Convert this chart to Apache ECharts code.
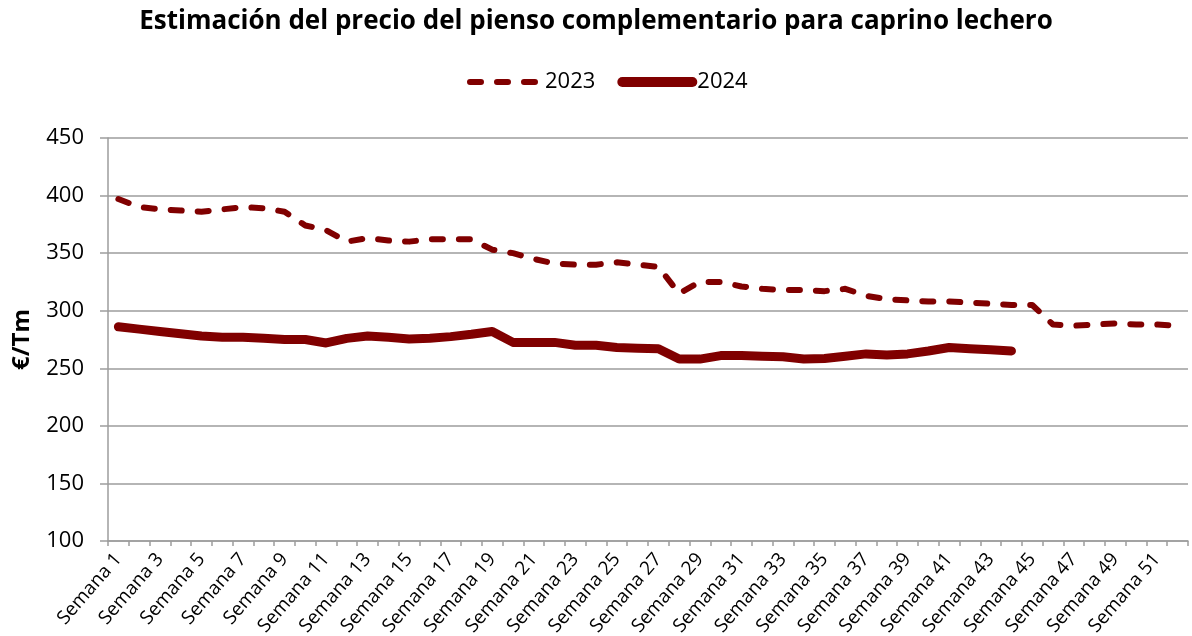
<!DOCTYPE html>
<html>
<head>
<meta charset="utf-8">
<script src="https://cdn.jsdelivr.net/npm/echarts@6/dist/echarts.min.js"></script>
<style>
  html, body { margin: 0; padding: 0; background: #fff; }
  #chart { width: 1192px; height: 636px; }
</style>
</head>
<body>
<div id="chart"></div>
<script>
// semanas del año
const semanas = [
  'Semana 1', 'Semana 2', 'Semana 3', 'Semana 4', 'Semana 5', 'Semana 6', 'Semana 7', 'Semana 8',
  'Semana 9', 'Semana 10', 'Semana 11', 'Semana 12', 'Semana 13', 'Semana 14', 'Semana 15', 'Semana 16',
  'Semana 17', 'Semana 18', 'Semana 19', 'Semana 20', 'Semana 21', 'Semana 22', 'Semana 23', 'Semana 24',
  'Semana 25', 'Semana 26', 'Semana 27', 'Semana 28', 'Semana 29', 'Semana 30', 'Semana 31', 'Semana 32',
  'Semana 33', 'Semana 34', 'Semana 35', 'Semana 36', 'Semana 37', 'Semana 38', 'Semana 39', 'Semana 40',
  'Semana 41', 'Semana 42', 'Semana 43', 'Semana 44', 'Semana 45', 'Semana 46', 'Semana 47', 'Semana 48',
  'Semana 49', 'Semana 50', 'Semana 51', 'Semana 52'
]

// €/Tm
const precio2023 = [
  397, 390, 388, 387, 386, 388, 390, 389, 386, 374, 370, 360, 363, 361, 360, 362,
  362, 362, 353, 350, 345, 341, 340, 340, 342, 340, 338, 315, 325, 325, 321, 319,
  318, 318, 317, 319, 313, 310, 309, 308, 308, 307, 306, 305, 305, 288, 287, 288,
  289, 288, 288, 287
]
const precio2024 = [
  286, 284, 282, 280, 278, 277, 277, 276, 275, 275, 272, 276, 278, 277, 275.5, 276,
  277.5, 279.5, 282, 272.5, 272.5, 272.5, 270, 270, 268, 267.5, 267, 258, 258, 261, 261, 260.5,
  260, 258, 258.5, 260.5, 262.5, 261.5, 262.5, 265, 268, 267, 266, 265
]

const granate = '#800000'
const gris = '#9d9d9d'
const fuente = '"Open Sans", "Noto Sans", sans-serif'

const chart = echarts.init(document.getElementById('chart'))

const option = {
  backgroundColor: '#fff',
  animation: false,
  title: {
    text: 'Estimación del precio del pienso complementario para caprino lechero',
    left: 'center',
    top: 4,
    textStyle: { fontFamily: fuente, fontSize: 26, fontWeight: 'bold', color: '#000' }
  },
  legend: {
    top: 66,
    left: 462,
    itemWidth: 70,
    itemHeight: 20,
    itemGap: 22,
    textStyle: { fontFamily: fuente, fontSize: 22, color: '#000' },
    data: [
      { name: '2023', itemStyle: { opacity: 0 }, lineStyle: { width: 6, type: [11, 16], cap: 'round' } },
      { name: '2024', itemStyle: { opacity: 0 }, lineStyle: { width: 10, cap: 'round' } }
    ]
  },
  grid: { left: 108, right: 4, top: 138, bottom: 95, outerBoundsMode: 'none' },
  xAxis: {
    type: 'category',
    data: semanas,
    boundaryGap: true,
    axisLine: { lineStyle: { color: gris, width: 1.5 } },
    axisTick: { show: true, interval: 0, length: 5, lineStyle: { color: gris, width: 1.5 } },
    axisLabel: {
      interval: 1,
      rotate: 49,
      margin: 15,
      fontFamily: fuente,
      fontSize: 19,
      color: '#000'
    }
  },
  yAxis: {
    type: 'value',
    min: 100,
    max: 450,
    interval: 50,
    name: '€/Tm',
    nameLocation: 'middle',
    nameRotate: 90,
    nameGap: 74,
    nameTextStyle: { fontFamily: fuente, fontSize: 24, fontWeight: 'bold', color: '#000' },
    axisLine: { show: true, lineStyle: { color: gris, width: 1.5 } },
    axisTick: { show: true, length: 8, lineStyle: { color: gris, width: 1.5 } },
    axisLabel: { margin: 24, fontFamily: fuente, fontSize: 22, color: '#000' },
    splitLine: { lineStyle: { color: gris, width: 1.5 } }
  },
  series: [
    {
      name: '2023',
      type: 'line',
      data: precio2023,
      symbol: 'none',
      color: granate,
      lineStyle: { color: granate, width: 6, type: [11, 16], cap: 'round', join: 'round' }
    },
    {
      name: '2024',
      type: 'line',
      data: precio2024,
      symbol: 'none',
      color: granate,
      lineStyle: { color: granate, width: 9, cap: 'round', join: 'round' }
    }
  ]
}

chart.setOption(option)
</script>
</body>
</html>
